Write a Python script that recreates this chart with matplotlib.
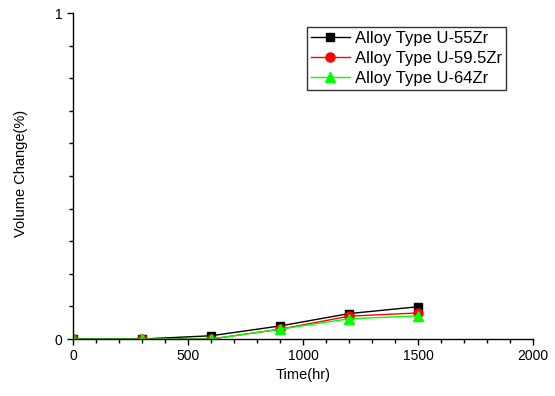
import matplotlib
matplotlib.use("Agg")
import matplotlib.pyplot as plt
from matplotlib.ticker import MultipleLocator

plt.rcParams['font.family'] = ['Liberation Sans', 'DejaVu Sans']

time_hr = [0, 300, 600, 900, 1200, 1500]
u55zr = [0.0, 0.0, 0.01, 0.04, 0.078, 0.099]
u595zr = [0.0, 0.0, 0.0, 0.03, 0.07, 0.08]
u64zr = [0.0, 0.0, 0.0, 0.03, 0.062, 0.071]
labels = ['Alloy Type U-55Zr', 'Alloy Type U-59.5Zr', 'Alloy Type U-64Zr']

fig = plt.figure(figsize=(5.55, 3.96), dpi=100)
ax = fig.add_axes([0.1315, 0.1439, 0.8288, 0.8232])

ax.plot(time_hr, u55zr, color='black', marker='s', markersize=6, linewidth=1, label=labels[0])
ax.plot(time_hr, u595zr, color='red', marker='o', markersize=6.5, linewidth=1, label=labels[1])
ax.plot(time_hr, u64zr, color='#00ff00', marker='^', markersize=7, linewidth=1, label=labels[2])

ax.set_xlim(0, 2000)
ax.set_ylim(0, 1)
ax.xaxis.set_major_locator(MultipleLocator(500))
ax.xaxis.set_minor_locator(MultipleLocator(100))
ax.yaxis.set_major_locator(MultipleLocator(1))
ax.yaxis.set_minor_locator(MultipleLocator(0.1))
ax.tick_params(which='major', length=4.5, width=1, labelsize=10, pad=3)
ax.tick_params(which='minor', length=3, width=1)

# only left and bottom axes, like the original plot
for side in ['top', 'right']:
    ax.spines[side].set_visible(False)
for side in ['left', 'bottom']:
    ax.spines[side].set_linewidth(1)

ax.set_xlabel('Time(hr)', fontsize=10.5, labelpad=3)
ax.set_ylabel('Volume Change(%)', fontsize=10.5)
ax.yaxis.set_label_coords(-0.098, 0.509)

leg = ax.legend(loc='upper left', bbox_to_anchor=(0.509, 0.957), fontsize=12,
                frameon=True, fancybox=False, edgecolor='black',
                handlelength=2.3, handletextpad=0.3, borderpad=0.25,
                labelspacing=0.3, borderaxespad=0)
leg.get_frame().set_linewidth(1)

fig.savefig('out.png', dpi=100)
